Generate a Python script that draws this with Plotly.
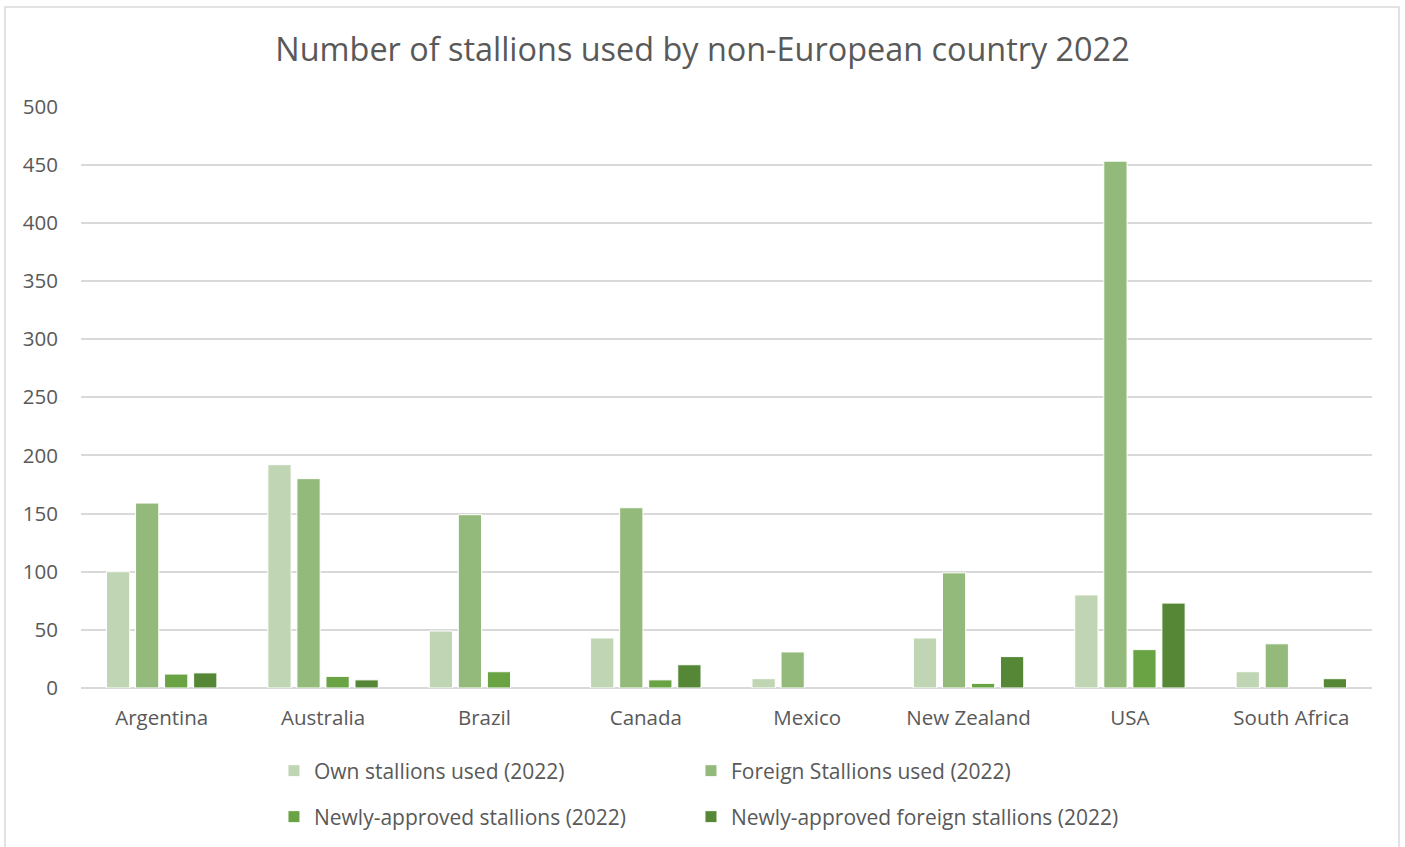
import plotly.graph_objects as go

countries = ["Argentina", "Australia", "Brazil", "Canada", "Mexico",
             "New Zealand", "USA", "South Africa"]
own_used = [100, 192, 49, 43, 8, 43, 80, 14]
foreign_used = [159, 180, 149, 155, 31, 99, 453, 38]
new_approved = [12, 10, 14, 7, 0, 4, 33, 0]
new_foreign = [13, 7, 0, 20, 0, 27, 73, 8]

series_names = ["Own stallions used (2022)", "Foreign Stallions used (2022)",
                "Newly-approved stallions (2022)", "Newly-approved foreign stallions (2022)"]
series_values = [own_used, foreign_used, new_approved, new_foreign]
series_colors = ["#BFD5B3", "#93BA7B", "#6AA343", "#568736"]

FONT = "Open Sans"
TEXT = "#595959"
GRID = "#D9D9D9"

# legend grid (container coordinates): two columns, two rows
legend_ids = ["legend", "legend2", "legend3", "legend4"]
legend_x = [0.195, 0.4918, 0.195, 0.4918]
legend_y = [0.0897, 0.0897, 0.0354, 0.0354]

fig = go.Figure()
for name, vals, col, lg in zip(series_names, series_values, series_colors, legend_ids):
    fig.add_trace(go.Bar(
        x=countries, y=vals, name=name, legend=lg, showlegend=True,
        marker=dict(color=col,
                    line=dict(color="white", width=[1 if v > 0 else 0 for v in vals])),
    ))

legend_style = dict(
    orientation="h", xanchor="left", yanchor="middle",
    xref="container", yref="container",
    font=dict(family=FONT, size=21, color=TEXT),
    bgcolor="rgba(0,0,0,0)", itemclick=False,
)
legends = {lg: dict(x=lx, y=ly, **legend_style)
           for lg, lx, ly in zip(legend_ids, legend_x, legend_y)}

fig.update_layout(
    width=1405, height=847,
    showlegend=True,
    margin=dict(l=81, r=33, t=106, b=159),
    paper_bgcolor="white", plot_bgcolor="white",
    font=dict(family=FONT, color=TEXT),
    title=dict(text="Number of stallions used by non-European country 2022",
               x=0.5, xanchor="center", y=0.941, yanchor="middle",
               font=dict(family=FONT, size=32.4, color=TEXT)),
    barmode="group", bargap=0.28, bargroupgap=0.2,
    xaxis=dict(showgrid=False, showline=False, ticks="", ticklabelstandoff=15,
               tickfont=dict(family=FONT, size=20.5, color=TEXT)),
    yaxis=dict(range=[0, 500.4], dtick=50, showgrid=True, gridcolor=GRID, gridwidth=1.5,
               zeroline=True, zerolinecolor=GRID, zerolinewidth=1.5,
               showline=False, ticks="", ticklabelstandoff=22,
               tickfont=dict(family=FONT, size=20.5, color=TEXT)),
    shapes=[dict(type="rect", xref="paper", yref="paper",
                 x0=-0.0589, x1=1.0209, y0=-0.35, y1=1.170,
                 line=dict(color=GRID, width=1.5), fillcolor="rgba(0,0,0,0)", layer="below")],
    **legends,
)

fig.write_html("out.html")
